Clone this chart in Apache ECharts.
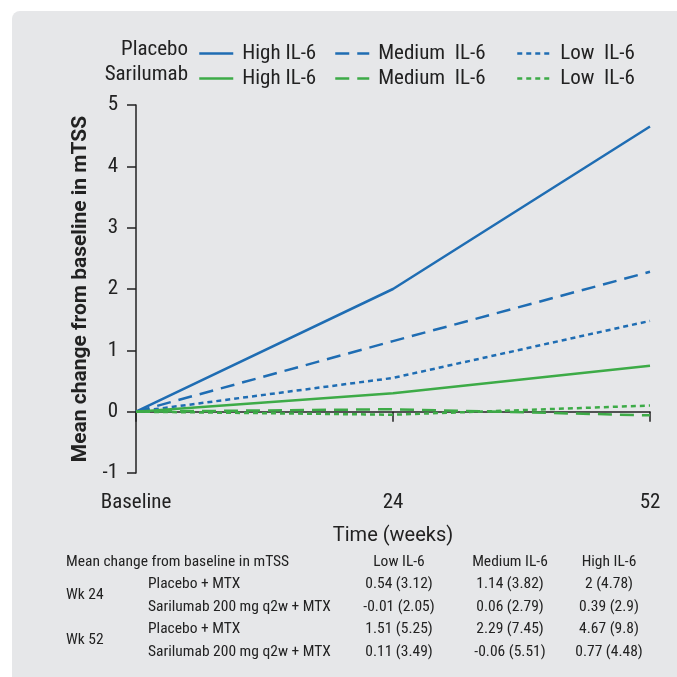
<!DOCTYPE html>
<html>
<head>
<meta charset="utf-8">
<script src="https://cdn.jsdelivr.net/npm/echarts@6/dist/echarts.min.js"></script>
<style>html,body{margin:0;padding:0;background:#fff}#c{width:677px;height:677px}</style>
</head>
<body>
<div id="c"></div>
<script>
// ---- data ----
var timepoints = ['Baseline', '24', '52'];
var placeboHigh = [0, 2.0, 4.65];
var placeboMedium = [0, 1.15, 2.28];
var placeboLow = [0, 0.55, 1.48];
var sariHigh = [0, 0.3, 0.75];
var sariMedium = [0, 0.04, -0.06];
var sariLow = [0, -0.05, 0.1];
var yTicks = [-1, 0, 1, 2, 3, 4, 5];
var groupLabels = ['Placebo', 'Sarilumab'];
var levelLabels = ['High IL-6', 'Medium  IL-6', 'Low  IL-6'];

var tableTitle = 'Mean change from baseline in mTSS';
var tableColumns = ['Low IL-6', 'Medium IL-6', 'High IL-6'];
var tableWeeks = ['Wk 24', 'Wk 52'];
var tableArms = ['Placebo + MTX', 'Sarilumab 200 mg q2w + MTX'];
var wk24Placebo = ['0.54 (3.12)', '1.14 (3.82)', '2 (4.78)'];
var wk24Sari = ['-0.01 (2.05)', '0.06 (2.79)', '0.39 (2.9)'];
var wk52Placebo = ['1.51 (5.25)', '2.29 (7.45)', '4.67 (9.8)'];
var wk52Sari = ['0.11 (3.49)', '-0.06 (5.51)', '0.77 (4.48)'];

// ---- style ----
var FONT = '"Roboto Condensed","Liberation Sans Narrow","Arial Narrow","DejaVu Sans Condensed",sans-serif';
var WIDE = 'Roboto,"Noto Sans",sans-serif';
var BLUE = '#1f6db3';
var GREEN = '#3dab47';
var TXT = '#222';
var dashMed = [14, 8];
var dashLow = [5, 4];

function mkSeries(name, data, color, dash) {
  return {
    name: name, type: 'line', data: data, symbol: 'none', showSymbol: false, silent: true,
    lineStyle: {color: color, width: 2.5, type: dash || 'solid'},
    itemStyle: {color: color},
    z: 3
  };
}
var series = [
  mkSeries('Placebo|' + levelLabels[0], placeboHigh, BLUE),
  mkSeries('Placebo|' + levelLabels[1], placeboMedium, BLUE, dashMed),
  mkSeries('Placebo|' + levelLabels[2], placeboLow, BLUE, dashLow),
  mkSeries('Sarilumab|' + levelLabels[0], sariHigh, GREEN),
  mkSeries('Sarilumab|' + levelLabels[1], sariMedium, GREEN, dashMed),
  mkSeries('Sarilumab|' + levelLabels[2], sariLow, GREEN, dashLow)
];

var legendCols = [193, 329, 511];
var legends = legendCols.map(function (x, i) {
  return {
    orient: 'vertical', left: x, top: 38, itemWidth: 34, itemHeight: 14, itemGap: 4,
    selectedMode: false,
    itemStyle: {opacity: 0},
    lineStyle: {width: 2.5},
    data: [series[i].name, series[i + 3].name],
    formatter: function (n) { return n.split('|')[1]; },
    textStyle: {fontFamily: FONT, fontSize: 21, color: TXT, padding: [0, 0, 0, 4], lineHeight: 21}
  };
});

// ---- graphic (background, legend row labels, table) ----
var g = [{
  type: 'rect', shape: {x: 12, y: 11, width: 700, height: 700, r: 8},
  style: {fill: '#e6e7e9'}, z: -10, silent: true
}];
groupLabels.forEach(function (t, i) {
  g.push({type: 'text', x: 188, y: 49.5 + i * 25, style: {text: t, font: '21px ' + FONT, fill: TXT, textAlign: 'right', textVerticalAlign: 'middle'}});
});
var TF = '15.5px ' + FONT;
var colX = [399, 510, 609];
g.push({type: 'text', x: 66, y: 562, style: {text: tableTitle, font: TF, fill: TXT, textAlign: 'left', textVerticalAlign: 'middle'}});
tableColumns.forEach(function (t, i) {
  g.push({type: 'text', x: colX[i], y: 562, style: {text: t, font: TF, fill: TXT, textAlign: 'center', textVerticalAlign: 'middle'}});
});
var rowY = [584, 607, 629, 652];
var rows = [wk24Placebo, wk24Sari, wk52Placebo, wk52Sari];
tableWeeks.forEach(function (t, i) {
  g.push({type: 'text', x: 66, y: (rowY[i * 2] + rowY[i * 2 + 1]) / 2, style: {text: t, font: TF, fill: TXT, textAlign: 'left', textVerticalAlign: 'middle'}});
});
rows.forEach(function (r, ri) {
  g.push({type: 'text', x: 148, y: rowY[ri], style: {text: tableArms[ri % 2], font: TF, fill: TXT, textAlign: 'left', textVerticalAlign: 'middle'}});
  r.forEach(function (v, ci) {
    g.push({type: 'text', x: colX[ci], y: rowY[ri], style: {text: v, font: TF, fill: TXT, textAlign: 'center', textVerticalAlign: 'middle'}});
  });
});

var chart = echarts.init(document.getElementById('c'), null, {renderer: 'canvas'});
chart.setOption({
  backgroundColor: '#ffffff',
  animation: false,
  legend: legends,
  graphic: g,
  grid: {left: 136, right: 27, top: 105, bottom: 204, containLabel: false},
  xAxis: {
    type: 'category', data: timepoints, boundaryGap: false,
    name: 'Time (weeks)', nameLocation: 'middle', nameGap: 53,
    nameTextStyle: {fontFamily: WIDE, fontSize: 20, color: TXT},
    axisLine: {lineStyle: {color: TXT, width: 1.5}},
    axisTick: {show: true, length: 10, lineStyle: {color: TXT, width: 1.5}, alignWithLabel: true},
    axisLabel: {fontFamily: FONT, fontSize: 21, color: TXT, margin: 19, showMinLabel: true, showMaxLabel: true},
    splitLine: {show: false}
  },
  yAxis: {
    type: 'value', min: yTicks[0], max: yTicks[yTicks.length - 1], interval: 1,
    name: 'Mean change from baseline in mTSS', nameLocation: 'middle', nameGap: 40,
    nameTextStyle: {fontFamily: WIDE, fontSize: 21, fontWeight: 'bold', color: TXT},
    axisLine: {show: true, lineStyle: {color: TXT, width: 1.5}},
    axisTick: {show: true, length: 9, lineStyle: {color: TXT, width: 1.5}},
    axisLabel: {fontFamily: FONT, fontSize: 21, color: TXT, margin: 18},
    splitLine: {show: false}
  },
  series: series
});
</script>
</body>
</html>
